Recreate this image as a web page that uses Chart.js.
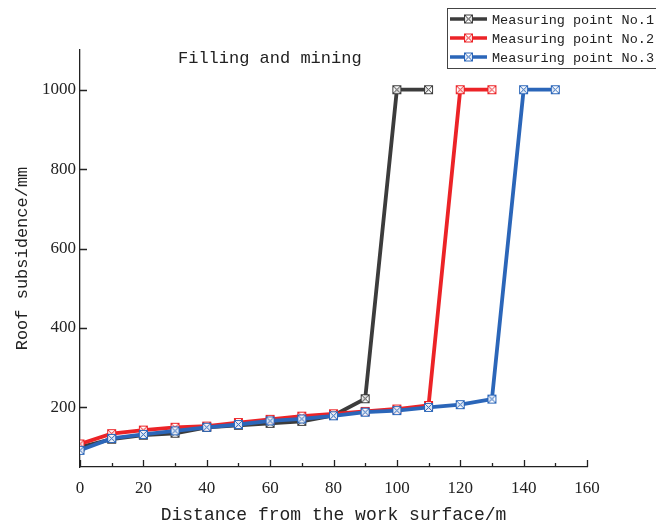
<!DOCTYPE html>
<html>
<head>
<meta charset="utf-8">
<script src="https://cdn.jsdelivr.net/npm/chart.js@4/dist/chart.umd.min.js"></script>
<style>
  html, body { margin: 0; padding: 0; background: #fff; }
  #wrap { width: 656px; height: 526px; }
</style>
</head>
<body>
<div id="wrap"><canvas id="chart" width="656" height="526"></canvas></div>
<script>
// data
const distance = [0, 10, 20, 30, 40, 50, 60, 70, 80, 90, 100, 110, 120, 130, 140, 150];
const point1 = [100, 120, 130, 135, 150, 155, 160, 165, 180, 222, 1000, 1000];
const point2 = [108, 134, 143, 150, 153, 162, 170, 178, 184, 190, 196, 205, 1000, 1000];
const point3 = [92, 122, 132, 141, 150, 157, 166, 171, 179, 188, 192, 200, 207, 221, 1000, 1000];
const seriesNames = ['Measuring point No.1', 'Measuring point No.2', 'Measuring point No.3'];
const seriesColors = ['#3c3c3c', '#ec2327', '#2b66b9'];
const yTicks = [200, 400, 600, 800, 1000];
const xTicks = [0, 20, 40, 60, 80, 100, 120, 140, 160];
const xMinor = [10, 30, 50, 70, 90, 110, 130, 150];

const monoFont = '"Liberation Mono", "DejaVu Sans Mono", monospace';
const serifFont = '"Liberation Serif", "DejaVu Serif", serif';

// square-with-cross marker
function makeMarker(color) {
    const c = document.createElement('canvas');
    c.width = 11; c.height = 11;
    const g = c.getContext('2d');
    g.fillStyle = 'rgba(255,255,255,0.85)';
    g.fillRect(1, 1, 9, 9);
    g.strokeStyle = color;
    g.lineWidth = 1;
    g.strokeRect(1.5, 1.5, 8, 8);
    g.beginPath();
    g.moveTo(1.5, 1.5); g.lineTo(9.5, 9.5);
    g.moveTo(9.5, 1.5); g.lineTo(1.5, 9.5);
    g.stroke();
    return c;
}

function toPoints(vals) {
    return vals.map((v, i) => ({ x: distance[i], y: v }));
}

const allSeries = [point1, point2, point3];
const datasets = allSeries.map((vals, i) => ({
    label: seriesNames[i],
    data: toPoints(vals),
    borderColor: seriesColors[i],
    backgroundColor: seriesColors[i],
    borderWidth: 3.8,
    pointStyle: makeMarker(seriesColors[i]),
    pointRadius: 5,
    tension: 0,
    order: 2 - i
}));

// inward ticks + title + boxed legend
const extras = {
    id: 'extras',
    afterDatasetsDraw(chart) {
        const ctx = chart.ctx;
        const xs = chart.scales.x, ys = chart.scales.y;
        const area = chart.chartArea;
        ctx.save();
        ctx.strokeStyle = '#222';
        ctx.lineWidth = 1.3;
        ctx.beginPath();
        xTicks.forEach(v => {
            const px = Math.round(xs.getPixelForValue(v)) + 0.5;
            ctx.moveTo(px, area.bottom); ctx.lineTo(px, area.bottom - 7);
        });
        xMinor.forEach(v => {
            const px = Math.round(xs.getPixelForValue(v)) + 0.5;
            ctx.moveTo(px, area.bottom); ctx.lineTo(px, area.bottom - 4);
        });
        yTicks.forEach(v => {
            const py = Math.round(ys.getPixelForValue(v)) + 0.5;
            ctx.moveTo(area.left, py); ctx.lineTo(area.left + 7, py);
        });
        ctx.stroke();

        // title inside plot
        ctx.fillStyle = '#222';
        ctx.font = '17px ' + monoFont;
        ctx.textBaseline = 'middle';
        ctx.textAlign = 'left';
        ctx.fillText('Filling and mining', 178, 58);

        // legend box
        const bx = 447.5, by = 8.5;
        ctx.fillStyle = '#fff';
        ctx.fillRect(bx, by, 215, 60);
        ctx.strokeStyle = '#444';
        ctx.lineWidth = 1;
        ctx.strokeRect(bx, by, 215, 60);
        ctx.font = '13.5px ' + monoFont;
        chart.data.datasets.forEach((ds, i) => {
            const y = 19 + i * 19;
            ctx.strokeStyle = ds.borderColor;
            ctx.lineWidth = 3.5;
            ctx.beginPath();
            ctx.moveTo(450, y); ctx.lineTo(487, y);
            ctx.stroke();
            ctx.drawImage(ds.pointStyle, 463, y - 5.5);
            ctx.fillStyle = '#222';
            ctx.fillText(ds.label, 492, y + 1);
        });
        ctx.restore();
    }
};

new Chart(document.getElementById('chart'), {
    type: 'line',
    data: { datasets: datasets },
    options: {
        responsive: false,
        animation: false,
        layout: { padding: { top: 50, right: 69, left: 0, bottom: 0 } },
        plugins: {
            legend: { display: false },
            tooltip: { enabled: false }
        },
        scales: {
            x: {
                type: 'linear',
                min: 0,
                max: 160,
                afterBuildTicks: s => { s.ticks = xTicks.map(v => ({ value: v })); },
                afterFit: s => { s.height = 59; },
                grid: { display: false, drawTicks: false },
                border: { display: true, color: '#222', width: 1.3 },
                ticks: {
                    color: '#222',
                    padding: 11,
                    maxRotation: 0,
                    font: { family: serifFont, size: 17 }
                },
                title: {
                    display: true,
                    text: 'Distance from the work surface/m',
                    color: '#222',
                    padding: { top: 4, bottom: 0 },
                    font: { family: monoFont, size: 18 }
                }
            },
            y: {
                min: 50,
                max: 1100,
                afterBuildTicks: s => { s.ticks = yTicks.map(v => ({ value: v })); },
                afterFit: s => { s.width = 80; },
                grid: { display: false, drawTicks: false },
                border: { display: true, color: '#222', width: 1.3 },
                ticks: {
                    color: '#222',
                    padding: 4,
                    callback: v => String(v),
                    font: { family: serifFont, size: 17 }
                },
                title: {
                    display: true,
                    text: 'Roof subsidence/mm',
                    color: '#222',
                    padding: { top: 12, bottom: 2 },
                    font: { family: monoFont, size: 17 }
                }
            }
        }
    },
    plugins: [extras]
});
</script>
</body>
</html>
